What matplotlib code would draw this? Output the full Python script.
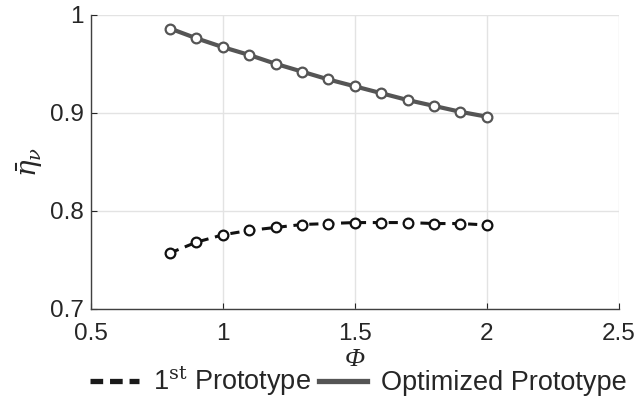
import matplotlib.pyplot as plt
from matplotlib.lines import Line2D

plt.rcParams["font.family"] = ["Liberation Sans", "DejaVu Sans"]
plt.rcParams["mathtext.fontset"] = "dejavuserif"

phi = [0.8, 0.9, 1.0, 1.1, 1.2, 1.3, 1.4, 1.5, 1.6, 1.7, 1.8, 1.9, 2.0]
eta_first = [0.757, 0.768, 0.7755, 0.780, 0.783, 0.786, 0.787, 0.788, 0.788, 0.788, 0.787, 0.787, 0.7855]
eta_opt = [0.986, 0.976, 0.967, 0.959, 0.950, 0.942, 0.934, 0.927, 0.920, 0.913, 0.907, 0.901, 0.896]

fig = plt.figure(figsize=(6.4, 4.0), dpi=100)
ax = fig.add_axes([0.142, 0.228, 0.825, 0.735])

ax.plot(phi, eta_first, color="#111111", linestyle=(0, (3, 2.2)), linewidth=2.2,
        marker="o", markersize=7, markerfacecolor="white", markeredgewidth=1.6,
        markeredgecolor="#111111", zorder=3)
ax.plot(phi, eta_opt, color="#555555", linestyle="-", linewidth=3,
        marker="o", markersize=7, markerfacecolor="white", markeredgewidth=1.6,
        markeredgecolor="#555555", zorder=3)

ax.set_xlim(0.5, 2.5)
ax.set_ylim(0.7, 1.0)
ax.set_xticks([0.5, 1, 1.5, 2, 2.5])
ax.set_xticklabels(["0.5", "1", "1.5", "2", "2.5"])
ax.set_yticks([0.7, 0.8, 0.9, 1.0])
ax.set_yticklabels(["0.7", "0.8", "0.9", "1"])
ax.grid(True, color="#e3e3e3", linewidth=1)
ax.set_axisbelow(True)

for side in ["top", "right"]:
    ax.spines[side].set_visible(False)
for side in ["left", "bottom"]:
    ax.spines[side].set_color("#404040")
    ax.spines[side].set_linewidth(1)
ax.tick_params(axis="both", labelsize=17.5, colors="#262626", direction="in", length=4)
ax.tick_params(axis="x", pad=10)
ax.tick_params(axis="y", pad=5)

ax.set_xlabel("Φ", fontsize=19, color="#262626", family="Liberation Serif",
              style="italic", va="center")
ax.xaxis.set_label_coords(0.5, -0.175)
ax.set_ylabel(r"$\bar{\eta}_{\nu}$", fontsize=20, color="#262626", labelpad=4)

# legend handles drawn without markers, thicker than the data lines
handles = [
    Line2D([], [], color="#1a1a1a", linestyle=(0, (2.4, 1.3)), linewidth=3.8),
    Line2D([], [], color="#555555", linestyle="-", linewidth=3.8),
]
labels = [r"1$^{\mathrm{st}}$ Prototype", "Optimized Prototype"]
ax.legend(handles, labels, loc="center", bbox_to_anchor=(0.507, -0.245), ncol=2,
          frameon=False, fontsize=19.5, handlelength=1.8, handletextpad=0.5,
          columnspacing=0.3, labelcolor="#262626", borderpad=0, borderaxespad=0)

fig.savefig("out.png", dpi=100)
